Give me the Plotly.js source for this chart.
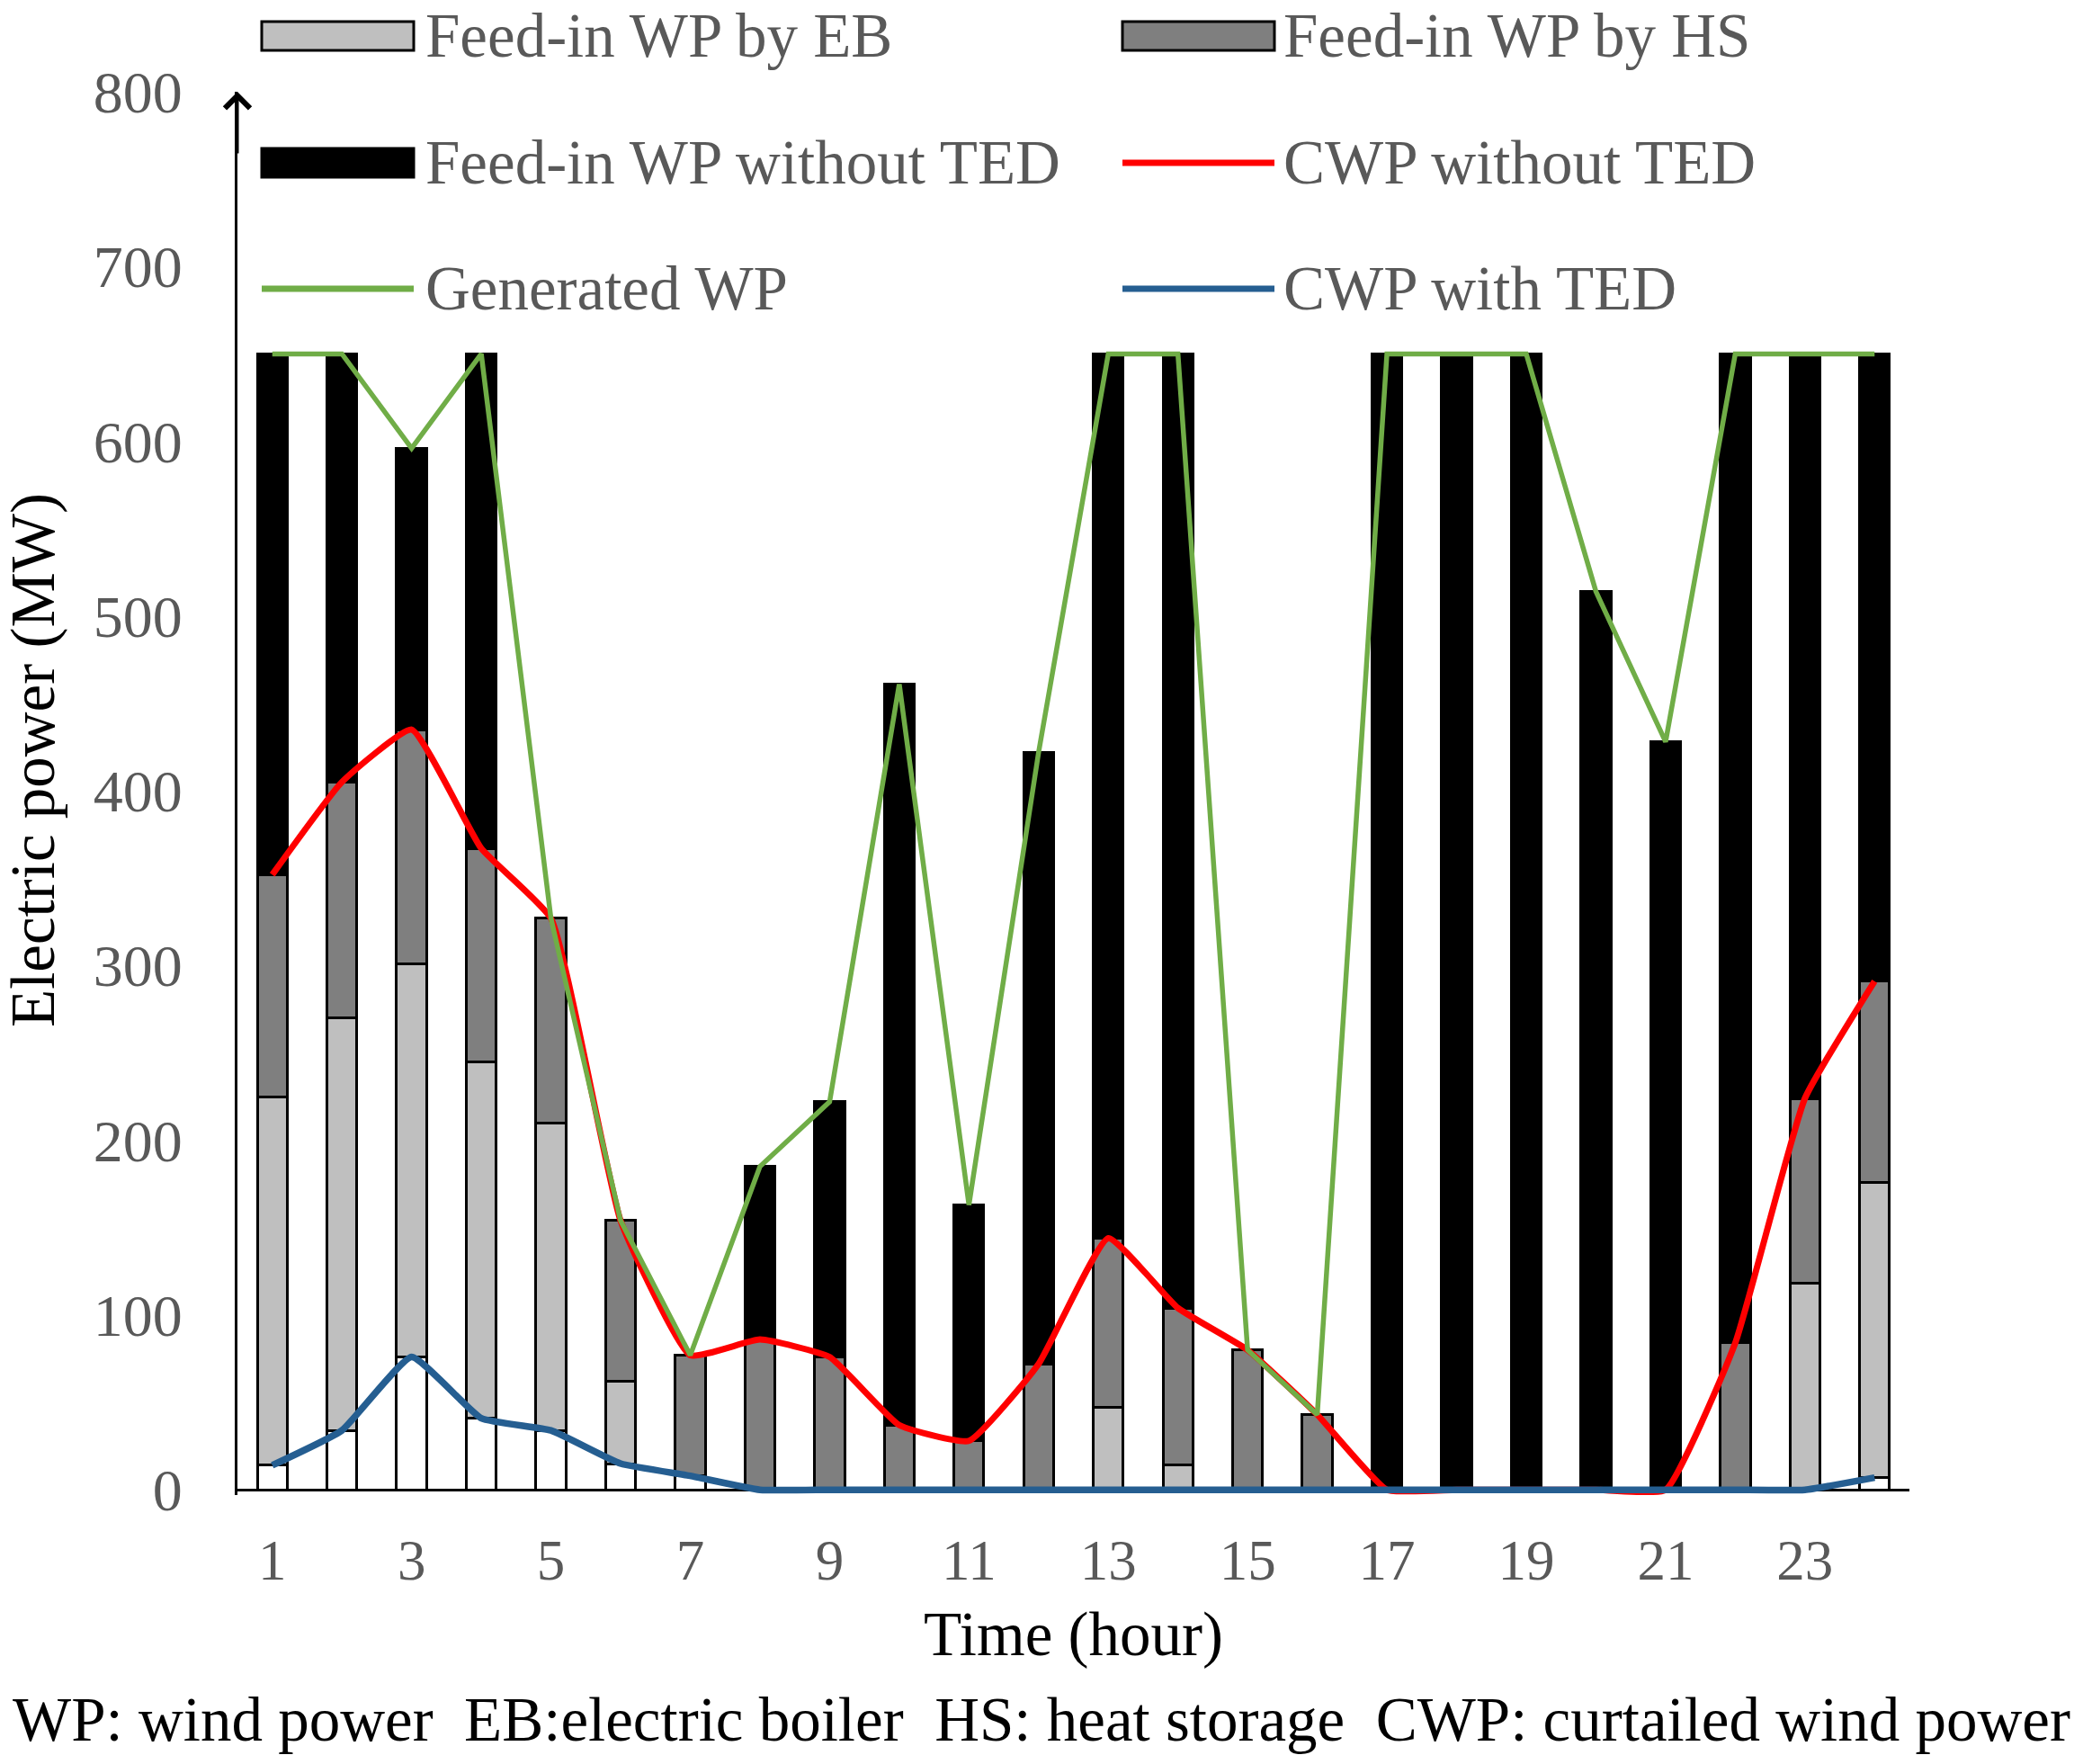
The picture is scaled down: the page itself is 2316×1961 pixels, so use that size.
<!DOCTYPE html>
<html>
<head>
<meta charset="utf-8">
<script src="https://cdn.plot.ly/plotly-3.0.1.min.js"></script>
<style>
  html, body { margin: 0; padding: 0; background: #fff; }
  #graph { width: 2316px; height: 1961px; }
</style>
</head>
<body>
<div id="graph"></div>
<script>
/* ----- Data (MW per hour) ----- */
var hours = [1, 2, 3, 4, 5, 6, 7, 8, 9, 10, 11, 12, 13, 14, 15, 16, 17, 18, 19, 20, 21, 22, 23, 24];
var xTickVals = [1, 3, 5, 7, 9, 11, 13, 15, 17, 19, 21, 23];
var xTickText = ['1', '3', '5', '7', '9', '11', '13', '15', '17', '19', '21', '23'];
var yTickVals = [0, 100, 200, 300, 400, 500, 600, 700, 800];

// stacked bar segments (bottom to top)
var cwpWithTED    = [14, 34, 76, 41, 34, 15, 8, 0, 0, 0, 0, 0, 0, 0, 0, 0, 0, 0, 0, 0, 0, 0, 0, 7];
var feedInEB      = [211, 236, 225, 204, 176, 47, 0, 0, 0, 0, 0, 0, 47, 14, 0, 0, 0, 0, 0, 0, 0, 0, 118, 169];
var feedInHS      = [127, 135, 134, 122, 117, 92, 69, 86, 76, 37, 28, 72, 97, 90, 80, 43, 0, 0, 0, 0, 0, 84, 106, 115];
var feedInNoTED   = [298, 245, 161, 283, 0, 0, 0, 99, 146, 424, 135, 350, 506, 546, 0, 0, 650, 650, 650, 514, 428, 566, 426, 359];

// line series
var cwpWithoutTED = [352, 405, 435, 367, 327, 154, 77, 86, 76, 37, 28, 72, 144, 104, 80, 43, 0, 0, 0, 0, 0, 84, 224, 291];
var generatedWP   = [650, 650, 596, 650, 327, 154, 77, 185, 222, 461, 163, 422, 650, 650, 80, 43, 650, 650, 650, 514, 428, 650, 650, 650];

/* ----- Geometry helpers (pixel -> paper) ----- */
var W = 2316, H = 1961;
var M = {l: 264, r: 193, t: 102, b: 299};
var plotW = W - M.l - M.r;
var plotH = H - M.t - M.b;
function paperX(px) { return (px - M.l) / plotW; }
function paperY(py) { return (H - M.b - py) / plotH; }

var FONT = 'Liberation Serif, Times New Roman, serif';
var GRAY_TEXT = '#595959';
var BAR_W = 0.43;
var OUTLINE = {color: '#000000', width: 3};

function barTrace(name, values, color) {
    return {
        type: 'bar',
        x: hours,
        y: values,
        name: name,
        width: BAR_W,
        marker: {color: color, line: OUTLINE}
    };
}

function lineTrace(name, values, color, width, smooth) {
    return {
        type: 'scatter',
        mode: 'lines',
        x: hours,
        y: values,
        name: name,
        line: {color: color, width: width, shape: smooth ? 'spline' : 'linear', smoothing: 0.4}
    };
}

var traces = [
    barTrace('CWP with TED (bar)', cwpWithTED, '#ffffff'),
    barTrace('Feed-in WP by EB', feedInEB, '#bfbfbf'),
    barTrace('Feed-in WP by HS', feedInHS, '#7f7f7f'),
    barTrace('Feed-in WP without TED', feedInNoTED, '#000000'),
    lineTrace('CWP without TED', cwpWithoutTED, '#ff0000', 7, true),
    lineTrace('Generated WP', generatedWP, '#70ad47', 5.5, false),
    lineTrace('CWP with TED', cwpWithTED, '#255e91', 7.5, true)
];

/* ----- Hand-made legend: 3 rows x 2 columns above the bars ----- */
var legendOrder = ['Feed-in WP by EB', 'Feed-in WP by HS',
                   'Feed-in WP without TED', 'CWP without TED',
                   'Generated WP', 'CWP with TED'];
var legendRowsY = [40, 181, 321];
var legendSwatchX = [[291, 460], [1248, 1417]];
var legendTextX = [471, 1425];

var shapes = [];
var annotations = [];

legendOrder.forEach(function(name, i) {
    var t = traces.filter(function(tr) { return tr.name === name; })[0];
    var row = Math.floor(i / 2), col = i % 2;
    var yc = legendRowsY[row];
    var sx = legendSwatchX[col];
    if (t.type === 'bar') {
        shapes.push({
            type: 'rect', xref: 'paper', yref: 'paper',
            x0: paperX(sx[0]), x1: paperX(sx[1]),
            y0: paperY(yc - 16), y1: paperY(yc + 16),
            fillcolor: t.marker.color,
            line: {color: '#000000', width: 3}
        });
    } else {
        shapes.push({
            type: 'line', xref: 'paper', yref: 'paper',
            x0: paperX(sx[0]), x1: paperX(sx[1]),
            y0: paperY(yc), y1: paperY(yc),
            line: {color: t.line.color, width: 7}
        });
    }
    annotations.push({
        xref: 'paper', yref: 'paper',
        x: paperX(legendTextX[col]), y: paperY(yc),
        xanchor: 'left', yanchor: 'middle',
        text: name, showarrow: false,
        font: {family: FONT, size: 69, color: GRAY_TEXT}
    });
});

// arrow at the top of the y axis
annotations.push({
    x: 0.5, y: 800, xref: 'x', yref: 'y',
    ax: 0, ay: 70, axref: 'pixel', ayref: 'pixel',
    text: '', showarrow: true,
    arrowhead: 4, arrowsize: 1.8, arrowwidth: 3, arrowcolor: '#000000'
});

// y axis title
annotations.push({
    xref: 'paper', yref: 'paper',
    x: paperX(37), y: paperY(845),
    xanchor: 'center', yanchor: 'middle',
    textangle: -90, showarrow: false,
    text: 'Electric power (MW)',
    font: {family: FONT, size: 69, color: '#000000'}
});

// footnote with abbreviations
annotations.push({
    xref: 'paper', yref: 'paper',
    x: paperX(1158), y: paperY(1912),
    xanchor: 'center', yanchor: 'middle',
    showarrow: false,
    text: 'WP: wind power\u00a0\u00a0EB:electric boiler\u00a0\u00a0HS: heat storage\u00a0\u00a0CWP: curtailed wind power',
    font: {family: FONT, size: 69, color: '#000000'}
});

var layout = {
    width: W,
    height: H,
    margin: M,
    paper_bgcolor: '#ffffff',
    plot_bgcolor: '#ffffff',
    barmode: 'stack',
    showlegend: false,
    font: {family: FONT, color: GRAY_TEXT},
    xaxis: {
        range: [0.5, 24.5],
        tickmode: 'array',
        tickvals: xTickVals,
        ticktext: xTickText,
        ticks: '',
        showgrid: false,
        zeroline: false,
        showline: false,
        ticklabelstandoff: 30,
        tickfont: {family: FONT, size: 63, color: GRAY_TEXT},
        title: {
            text: 'Time (hour)',
            standoff: 22,
            font: {family: FONT, size: 69, color: '#000000'}
        }
    },
    yaxis: {
        range: [-3, 800],
        tickmode: 'array',
        tickvals: yTickVals,
        ticks: '',
        showgrid: false,
        showline: true,
        linecolor: '#000000',
        linewidth: 3,
        zeroline: true,
        zerolinecolor: '#000000',
        zerolinewidth: 3,
        ticklabelstandoff: 45,
        tickfont: {family: FONT, size: 66, color: GRAY_TEXT}
    },
    shapes: shapes,
    annotations: annotations
};

Plotly.newPlot('graph', traces, layout, {staticPlot: true, displayModeBar: false});
</script>
</body>
</html>
